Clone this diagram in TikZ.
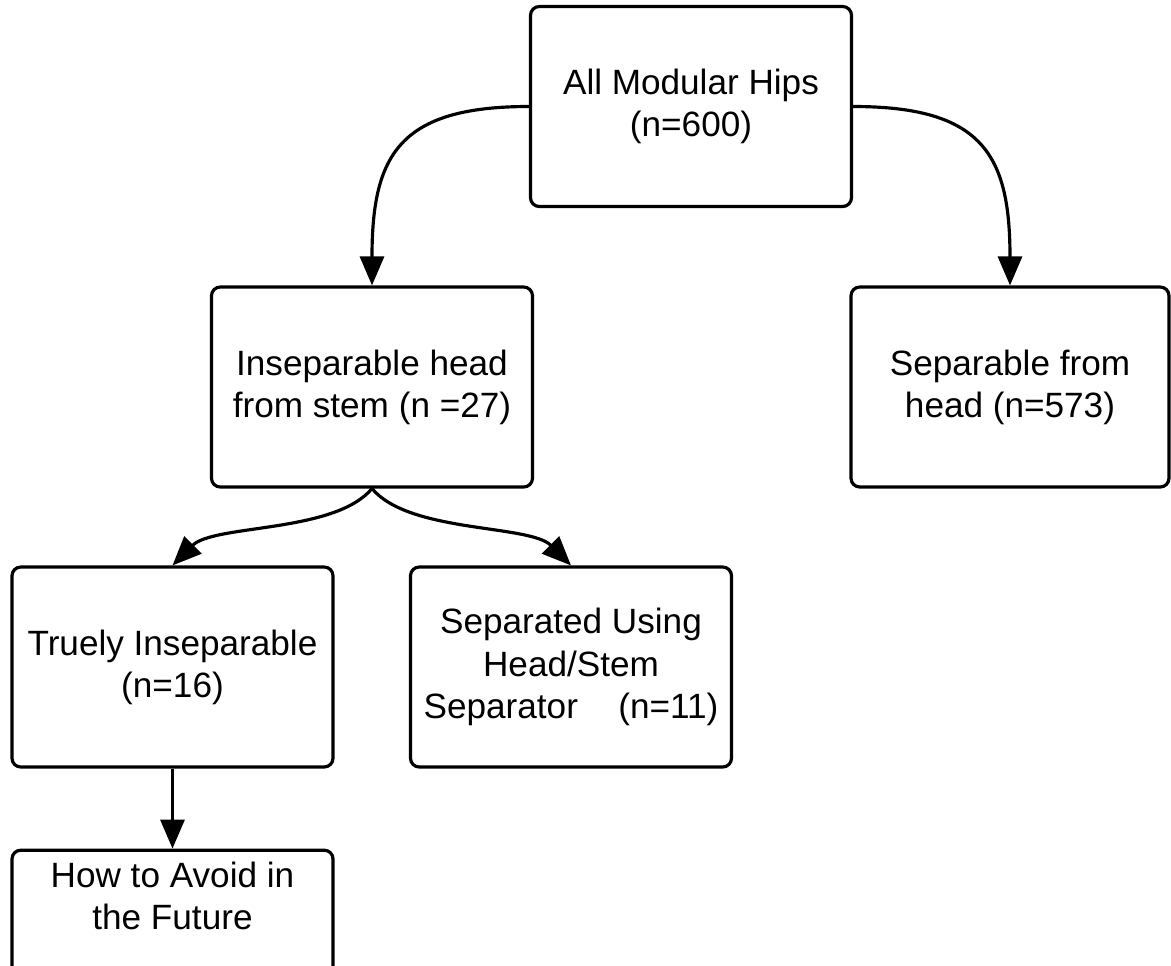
\documentclass[tikz,border=0pt]{standalone}
\usepackage{fontspec}
\setmainfont{Liberation Sans}
\usetikzlibrary{positioning, arrows.meta}

\begin{document}
\begin{tikzpicture}
    [node distance=5.6cm,
    box/.style={rectangle, draw, line width=1.8pt, rounded corners=5pt, minimum width=6.42cm,
    minimum height=4cm, align=center, font=\fontsize{20}{24}\selectfont},
    arrow/.style={line width=1.8pt, -{Triangle[length=0.58cm, width=0.48cm]}}]
    \useasboundingbox (-13.82,2.13) rectangle ++(23.42,-19.3);
    \node [box] (all_hips) {All Modular Hips\\(n=600)};
    \node [box, below of=all_hips, xshift=-6.38cm, node distance=5.61cm] (inseparable)
    {Inseparable head\\from stem (n =27)};
    \node [box, below of=all_hips, xshift=6.38cm, node distance=5.61cm, minimum width=6.36cm]
    (separable) {Separable from\\head (n=573)};
    \node [box, below of=inseparable, xshift=-3.99cm] (truly) {Truely Inseparable\\(n=16)};
    \node [box, below of=inseparable, xshift=3.98cm] (separated)
    {Separated Using\\Head/Stem\\Separator\hspace{23pt}(n=11)};
    \node [box, below=1.6cm of truly, minimum height=0pt, inner ysep=6.5pt, text depth=3cm]
    (avoid) {How to Avoid in\\the Future};

    \draw [arrow] (all_hips.west) to [out=180, in=90, looseness=1.4] (inseparable.north);
    \draw [arrow] (all_hips.east) to [out=0, in=90, looseness=1.4] (separable.north);
    \draw [arrow] (inseparable.south) to [out=-130, in=45, looseness=0.7] (truly.north);
    \draw [arrow] (inseparable.south) to [out=-50, in=135, looseness=0.7] (separated.north);
    \draw [arrow] (truly) -- (avoid);
  \end{tikzpicture}
\end{document}
